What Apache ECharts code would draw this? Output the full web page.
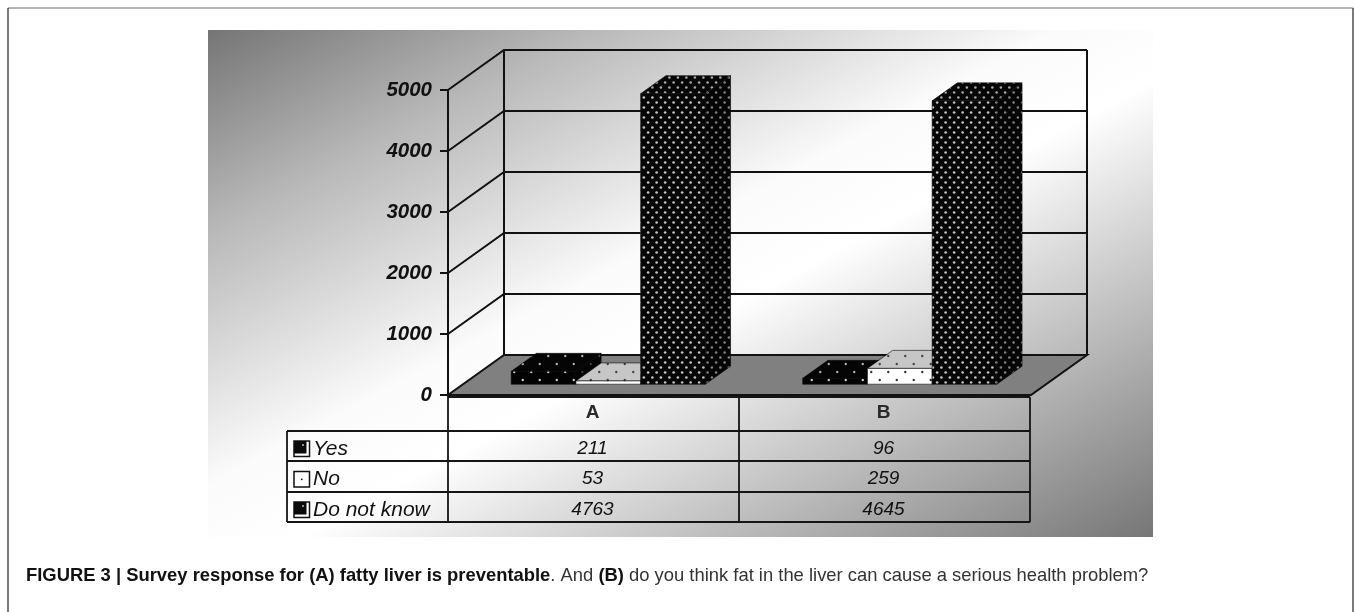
<!DOCTYPE html>
<html>
<head>
<meta charset="utf-8">
<style>html,body{margin:0;padding:0;background:#fff}#c{width:1354px;height:612px}</style>
<script src="https://cdn.jsdelivr.net/npm/echarts@6/dist/echarts.min.js"></script>
</head>
<body>
<div id="c"></div>
<script>
var categories = ['A', 'B'];
var seriesNames = ['Yes', 'No', 'Do not know'];
var yesValues = [211, 96];
var noValues = [53, 259];
var dontKnowValues = [4763, 4645];
var yTicks = [0, 1000, 2000, 3000, 4000, 5000];

var DX = 56, DY = -40;            // full depth of the 3D box, in pixels
var BAR_FRONT = 0.27, BAR_BACK = 0.72;
var GAP = 0.165, BAR_W = 0.222;

function dots(bg, dot, w, h, r, nx) {
  var c = document.createElement('canvas');
  c.width = w; c.height = h * 2;
  var g = c.getContext('2d');
  g.fillStyle = bg; g.fillRect(0, 0, c.width, c.height);
  g.fillStyle = dot;
  var step = w / nx;
  for (var i = 0; i < nx; i++) {
    [[step * i + step / 4, h / 2], [step * i + 3 * step / 4, 3 * h / 2]].forEach(function (p) {
      g.beginPath(); g.arc(p[0], p[1], r, 0, Math.PI * 2); g.fill();
    });
  }
  return { image: c, repeat: 'repeat' };
}
var styles = [
  { front: dots('#030303', '#d0d0d0', 17, 8, 1.2, 1), top: dots('#050505', '#b0b0b0', 17, 8, 1.2, 1), side: dots('#050505', '#555555', 17, 8, 1, 1) },
  { front: dots('#ffffff', '#333333', 17, 8, 1.2, 1), top: dots('#c6c6c6', '#444444', 17, 8, 1.2, 1), side: dots('#bbbbbb', '#444444', 17, 8, 1, 1) },
  { front: dots('#060606', '#c4c4c4', 17, 5, 1.35, 2), top: dots('#060606', '#a8a8a8', 17, 5, 1.3, 2), side: dots('#050505', '#808080', 17, 5, 1.3, 2) }
];

function pt(api, x, v, d) {
  var p = api.coord([x, v]);
  return [p[0] + DX * d, p[1] + DY * d];
}
function barSeries(idx, values) {
  return {
    type: 'custom',
    name: seriesNames[idx],
    coordinateSystem: 'cartesian2d',
    z: 3 + idx,
    clip: false,
    data: values.map(function (v, i) { return [i, v]; }),
    encode: { x: 0, y: 1 },
    renderItem: function (params, api) {
      var cat = api.value(0), v = api.value(1);
      var l = cat + GAP + idx * BAR_W, r = l + BAR_W;
      var s = styles[idx];
      var ln = { stroke: '#0a0a0a', lineWidth: 0.6 };
      function poly(points, fill) {
        return { type: 'polygon', shape: { points: points }, style: Object.assign({ fill: fill }, ln) };
      }
      return {
        type: 'group',
        children: [
          poly([pt(api, r, 0, BAR_FRONT), pt(api, r, 0, BAR_BACK), pt(api, r, v, BAR_BACK), pt(api, r, v, BAR_FRONT)], s.side),
          poly([pt(api, l, v, BAR_FRONT), pt(api, r, v, BAR_FRONT), pt(api, r, v, BAR_BACK), pt(api, l, v, BAR_BACK)], s.top),
          poly([pt(api, l, 0, BAR_FRONT), pt(api, r, 0, BAR_FRONT), pt(api, r, v, BAR_FRONT), pt(api, l, v, BAR_FRONT)], s.front)
        ]
      };
    }
  };
}

var wallSeries = {
  type: 'custom',
  name: 'walls',
  coordinateSystem: 'cartesian2d',
  z: 2,
  clip: false,
  silent: true,
  data: yTicks.map(function (t) { return [0, t]; }),
  encode: { x: 0, y: 1 },
  renderItem: function (params, api) {
    var t = api.value(1);
    var xEnd = categories.length;
    var kids = [];
    var line = { stroke: '#111', lineWidth: 2, fill: null };
    if (t === 0) {
      kids.push({
        type: 'polygon',
        shape: { points: [pt(api, 0, 0, 0), pt(api, xEnd, 0, 0), pt(api, xEnd, 0, 1), pt(api, 0, 0, 1)] },
        style: { fill: '#808080', stroke: '#111', lineWidth: 2 }
      });
      kids.push({ type: 'polyline', shape: { points: [pt(api, 0, 0, 1), pt(api, 0, 5000, 1)] }, style: line });
      kids.push({ type: 'polyline', shape: { points: [pt(api, xEnd, 0, 1), pt(api, xEnd, 5000, 1)] }, style: line });
    } else {
      kids.push({ type: 'polyline', shape: { points: [pt(api, 0, t, 0), pt(api, 0, t, 1), pt(api, xEnd, t, 1)] }, style: line });
    }
    return { type: 'group', children: kids };
  }
};

var FONT = '"Liberation Sans", Arial, sans-serif';
var tableX = [287, 448, 739, 1030];
var tableY = [397, 431, 461, 492, 522];
var rows = [yesValues, noValues, dontKnowValues];
var g = [];

g.push({ type: 'rect', z: -10, shape: { x: 208, y: 30, width: 945, height: 507 },
  style: { fill: { type: 'linear', x: 0.2765, y: -0.2765, x2: 0.7235, y2: 1.2765, colorStops: [
    { offset: 0, color: '#757575' }, { offset: 0.2, color: '#b8b8b8' }, { offset: 0.45, color: '#fbfbfb' }, { offset: 0.55, color: '#ffffff' }, { offset: 1, color: '#767676' }] } } });

function hv(x1, y1, x2, y2, st) {
  return { type: 'line', z: 20, shape: { x1: x1, y1: y1, x2: x2, y2: y2 }, style: st || { stroke: '#151515', lineWidth: 1.8 } };
}
// page frame
g.push(hv(8, 8, 1353, 8, { stroke: '#666', lineWidth: 1.2 }));
g.push(hv(8, 8, 8, 612, { stroke: '#222', lineWidth: 1.2 }));
g.push(hv(1353, 8, 1353, 612, { stroke: '#222', lineWidth: 1.2 }));
// data table
g.push(hv(448, tableY[0], 1030, tableY[0]));
for (var i = 1; i < tableY.length; i++) g.push(hv(287, tableY[i], 1030, tableY[i]));
g.push(hv(287, 431, 287, 522));
g.push(hv(448, 395, 448, 522));
g.push(hv(739, 397, 739, 522));
g.push(hv(1030, 397, 1030, 522));
categories.forEach(function (c, i) {
  g.push({ type: 'text', z: 21, style: { text: c, x: (tableX[i + 1] + tableX[i + 2]) / 2 - 1, y: 413, align: 'center', verticalAlign: 'middle', font: 'bold 19px ' + FONT, fill: '#2a2a2a' } });
});
seriesNames.forEach(function (n, r) {
  var cy = (tableY[r + 1] + tableY[r + 2]) / 2 + 3;
  g.push({ type: 'text', z: 21, style: { text: n, x: 313, y: cy, align: 'left', verticalAlign: 'middle', font: 'italic 21px ' + FONT, fill: '#111' } });
  g.push({ type: 'rect', z: 21, shape: { x: 294, y: cy - 8, width: 15.5, height: 15.5 }, style: { fill: '#fff', stroke: '#111', lineWidth: 1.5 } });
  if (r === 1) {
    g.push({ type: 'circle', z: 22, shape: { cx: 301.7, cy: cy - 0.2, r: 0.9 }, style: { fill: '#111' } });
  } else {
    g.push({ type: 'rect', z: 22, shape: { x: 294, y: cy - 8, width: 12.5, height: 12.5 }, style: { fill: '#0a0a0a' } });
    g.push({ type: 'circle', z: 23, shape: { cx: 303, cy: cy - 4, r: 1 }, style: { fill: '#bbb' } });
  }
  rows[r].forEach(function (v, i) {
    g.push({ type: 'text', z: 21, style: { text: String(v), x: (tableX[i + 1] + tableX[i + 2]) / 2 - 1, y: cy - 0.5, align: 'center', verticalAlign: 'middle', font: 'italic 19px ' + FONT, fill: '#111' } });
  });
});
// caption
g.push({ type: 'text', z: 21, style: {
  x: 26, y: 576, verticalAlign: 'middle',
  text: '{b|FIGURE 3 | Survey response for (A) fatty liver is preventable}{n|. And }{b|(B)}{n| do you think fat in the liver can cause a serious health problem?}',
  rich: {
    b: { font: 'bold 18.4px ' + FONT, fill: '#111' },
    n: { font: '18.4px ' + FONT, fill: '#333' }
  }
} });

var chart = echarts.init(document.getElementById('c'), null, { renderer: 'canvas' });
chart.setOption({
  animation: false,
  backgroundColor: '#fff',
  grid: { left: 448, right: 323, top: 90, bottom: 217 },
  xAxis: { type: 'value', min: 0, max: categories.length, show: false },
  yAxis: {
    type: 'value', min: 0, max: 5000, interval: 1000,
    axisLine: { show: true, lineStyle: { color: '#111', width: 2 } },
    axisTick: { show: true, length: 8, lineStyle: { color: '#111', width: 2 } },
    splitLine: { show: false },
    axisLabel: { margin: 16, color: '#111', fontFamily: FONT, fontStyle: 'italic', fontWeight: 'bold', fontSize: 20.5,
      formatter: function (v) { return String(v); } }
  },
  graphic: { elements: g },
  series: [wallSeries, barSeries(0, yesValues), barSeries(1, noValues), barSeries(2, dontKnowValues)]
});
</script>
</body>
</html>
